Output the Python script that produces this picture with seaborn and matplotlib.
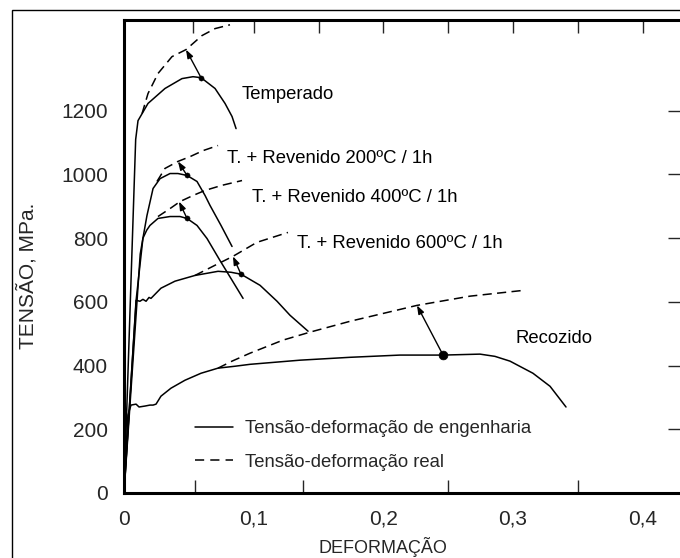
import matplotlib
matplotlib.use("Agg")
import matplotlib.pyplot as plt
from matplotlib.lines import Line2D
from matplotlib.patches import Rectangle
import seaborn as sns
import numpy as np

# ---------------- data ----------------
# Temperado
temp_eng_x = [0.0, 0.0090, 0.0108, 0.0185, 0.0316, 0.0447, 0.0532, 0.0594, 0.0702, 0.0779, 0.0833, 0.0864]
temp_eng_y = [0, 1110, 1169, 1223, 1270, 1301, 1307, 1304, 1270, 1223, 1182, 1144]
temp_true_x = [0.0139, 0.0185, 0.0262, 0.0370, 0.0478, 0.0601, 0.0702, 0.0817]
temp_true_y = [1191, 1254, 1317, 1370, 1392, 1436, 1458, 1470]

# T. + Revenido 200 C
r200_eng_x = [0.0, 0.0095, 0.0146, 0.0177, 0.0224, 0.0278, 0.0355, 0.0416, 0.0486, 0.0563, 0.0625, 0.0663, 0.0748, 0.0833]
r200_eng_y = [0, 611, 800, 871, 956, 987, 1003, 1003, 997, 978, 934, 903, 840, 774]
r200_true_x = [0.0254, 0.0316, 0.0416, 0.0509, 0.0610, 0.0725]
r200_true_y = [978, 1019, 1041, 1056, 1075, 1091]

# T. + Revenido 400 C
r400_eng_x = [0.0, 0.0125, 0.0146, 0.0175, 0.0200, 0.0262, 0.0355, 0.0432, 0.0486, 0.0563, 0.0640, 0.0740, 0.0833, 0.0918]
r400_eng_y = [0, 750, 800, 825, 840, 862, 868, 868, 862, 840, 799, 730, 668, 611]
r400_true_x = [0.0262, 0.0355, 0.0432, 0.0532, 0.0625, 0.0756, 0.0910]
r400_true_y = [868, 893, 915, 934, 950, 966, 981]

# T. + Revenido 600 C
r600_eng_x = [0.0, 0.0093, 0.0123, 0.0146, 0.0170, 0.0193, 0.0208, 0.0285, 0.0393, 0.0547, 0.0725, 0.0825, 0.0902, 0.1049, 0.1180, 0.1280, 0.1419]
r600_eng_y = [0, 605, 602, 608, 602, 614, 611, 643, 665, 683, 696, 693, 687, 652, 602, 558, 508]
r600_true_x = [0.0547, 0.0702, 0.0840, 0.1025, 0.1264]
r600_true_y = [683, 715, 743, 787, 818]

# Recozido
rec_eng_x = [0.0, 0.0030, 0.0054, 0.0093, 0.0116, 0.0162, 0.0200, 0.0224, 0.0247, 0.0285, 0.0362, 0.0470,
             0.0594, 0.0725, 0.0856, 0.0972, 0.1357, 0.1742, 0.2128, 0.2460, 0.2745, 0.2860, 0.2976, 0.3153,
             0.3285, 0.3408]
rec_eng_y = [0, 245, 276, 279, 270, 273, 276, 276, 279, 304, 329, 354,
             376, 392, 398, 404, 417, 426, 433, 433, 436, 429, 414, 376,
             335, 270]
rec_true_x = [0.0725, 0.0833, 0.0972, 0.1226, 0.1434, 0.1742, 0.2259, 0.2668, 0.3076]
rec_true_y = [392, 414, 439, 480, 505, 539, 589, 618, 636]

# ultimate-strength dots and arrow targets on the true curves
uts_x = [0.0594, 0.0486, 0.0486, 0.0902, 0.2460]
uts_y = [1304, 997, 862, 687, 433]
arrow_to_x = [0.0478, 0.0416, 0.0424, 0.0840, 0.2259]
arrow_to_y = [1392, 1041, 915, 743, 589]
dot_sizes = [14, 14, 14, 14, 40]

curve_labels = ["Temperado", "T. + Revenido 200ºC / 1h", "T. + Revenido 400ºC / 1h",
                "T. + Revenido 600ºC / 1h", "Recozido"]
label_x = [0.091, 0.0794, 0.0987, 0.1334, 0.302]
label_y = [1251, 1050, 928, 784, 486]

x_tick_vals = [0.0, 0.1, 0.2, 0.3, 0.4]
x_tick_labels = ["0", "0,1", "0,2", "0,3", "0,4"]
x_bottom_minor = [0.055, 0.138, 0.2, 0.25, 0.3, 0.35, 0.4]
x_top_ticks = [0.053, 0.1, 0.15, 0.2, 0.25, 0.3, 0.35, 0.4]
y_tick_vals = [0, 200, 400, 600, 800, 1000, 1200]
y_side_ticks = [200, 400, 600, 800, 1000, 1200]

legend_labels = ["Tensão-deformação de engenharia", "Tensão-deformação real"]

# ---------------- style ----------------
sns.set_style("white")
plt.rcParams["font.family"] = ["Liberation Sans", "DejaVu Sans"]

fig = plt.figure(figsize=(6.8, 5.58), dpi=100)
ax = fig.add_axes([124 / 680, 65 / 558, 556 / 680, 473 / 558])

LW = 1.1
DASH = (6, 3.5)
TXT = 13.3

eng = [(temp_eng_x, temp_eng_y), (r200_eng_x, r200_eng_y), (r400_eng_x, r400_eng_y),
       (r600_eng_x, r600_eng_y), (rec_eng_x, rec_eng_y)]
true = [(temp_true_x, temp_true_y), (r200_true_x, r200_true_y), (r400_true_x, r400_true_y),
        (r600_true_x, r600_true_y), (rec_true_x, rec_true_y)]

for xs, ys in eng:
    sns.lineplot(x=xs, y=ys, ax=ax, color="black", lw=LW, sort=False, estimator=None)
for xs, ys in true:
    sns.lineplot(x=xs, y=ys, ax=ax, color="black", lw=LW, sort=False, estimator=None,
                 linestyle=(0, DASH))

for i in range(len(uts_x)):
    ax.annotate("", xy=(arrow_to_x[i], arrow_to_y[i]), xytext=(uts_x[i], uts_y[i]),
                arrowprops=dict(arrowstyle="-|>,head_length=0.5,head_width=0.18",
                                color="black", lw=1.0, shrinkA=0, shrinkB=0))
    sns.scatterplot(x=[uts_x[i]], y=[uts_y[i]], ax=ax, color="black", s=dot_sizes[i],
                    edgecolor="black", zorder=5)

for t, lx, ly in zip(curve_labels, label_x, label_y):
    ax.text(lx, ly, t, fontsize=TXT, ha="left", va="center", color="black")

ax.set_xlim(0, 0.4287)
ax.set_ylim(0, 1485)

# spines
for s in ["left", "bottom", "top"]:
    ax.spines[s].set_linewidth(2.2)
    ax.spines[s].set_color("black")
ax.spines["right"].set_visible(False)

ax.set_xticks(x_tick_vals)
ax.set_xticklabels(x_tick_labels)
ax.set_xticks(x_bottom_minor, minor=True)
ax.set_yticks(y_tick_vals)
ax.set_yticklabels([str(v) for v in y_tick_vals])
ax.tick_params(axis="x", which="major", length=0, pad=12, labelsize=15)
ax.tick_params(axis="x", which="minor", direction="in", length=9.5, width=1.0, bottom=True)
ax.tick_params(axis="y", which="major", direction="in", length=8, width=1.0, pad=11.5, labelsize=15)
ax.yaxis.get_major_ticks()[0].tick1line.set_visible(False)

sec_top = ax.secondary_xaxis("top")
sec_top.set_xticks(x_top_ticks)
sec_top.tick_params(direction="in", length=9.5, width=1.0, labeltop=False)
sec_top.spines["top"].set_visible(False)

sec_right = ax.secondary_yaxis("right")
sec_right.set_yticks(y_side_ticks)
sec_right.tick_params(direction="in", length=9, width=1.0, labelright=False)
sec_right.spines["right"].set_visible(False)

ax.set_xlabel("DEFORMAÇÃO", fontsize=13, va="center")
ax.xaxis.set_label_coords(0.466, -0.114)
ax.set_ylabel("TENSÃO, MPa.", fontsize=15, va="center")
ax.yaxis.set_label_coords(-0.174, 0.459)

handles = [Line2D([], [], color="black", lw=LW),
           Line2D([], [], color="black", lw=LW, linestyle=(0, (6, 4)))]
ax.legend(handles, legend_labels, loc="upper left", bbox_to_anchor=(0.1277, 0.154),
          frameon=False, fontsize=TXT, handlelength=2.05, handletextpad=0.65,
          labelspacing=0.9, borderpad=0, borderaxespad=0)

# outer frame
fig.patches.append(Rectangle((12 / 680, -0.05), 1.2, 0.05 + 548 / 558, transform=fig.transFigure,
                             fill=False, lw=1.0, edgecolor="black"))

fig.savefig("out.png", dpi=100)
